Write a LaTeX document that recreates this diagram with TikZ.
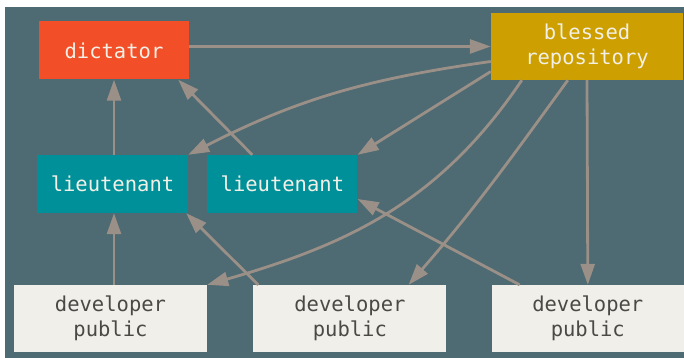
\documentclass[tikz,border=0pt]{standalone}
\usepackage{fontspec}
\setmonofont{DejaVu Sans Mono}
\usepackage{tikz}
\usetikzlibrary{arrows.meta,positioning}
\definecolor{slate}{HTML}{4E6A72}
\definecolor{dictfill}{HTML}{F24E27}
\definecolor{blessfill}{HTML}{CD9F00}
\definecolor{ltfill}{HTML}{00909A}
\definecolor{devfill}{HTML}{F0EFE9}
\definecolor{devtext}{HTML}{4B4946}
\definecolor{lighttext}{HTML}{F2F0E6}
\definecolor{arrowc}{HTML}{9B9088}

\begin{document}
\begin{tikzpicture}[x=1pt,y=-1pt,
  box/.style={inner sep=0pt,minimum height=58pt,align=center,text=lighttext,
              font=\ttfamily\fontsize{20.5}{25}\selectfont},
  devbox/.style={box,fill=devfill,text=devtext,minimum width=193pt,minimum height=67pt},
  arr/.style={-{Triangle[length=21pt,width=14pt]},draw=arrowc,line width=2.8pt}
]
\useasboundingbox (0,0) rectangle (684,358);
\fill[slate] (5,7) rectangle (684,358);
\node[box,fill=dictfill,minimum width=150pt] (dict) at (114,50.5) {dictator};
\node[box,fill=blessfill,minimum width=192pt,minimum height=67pt] (bless) at (587,46.5) {blessed\\repository};
\node[box,fill=ltfill,minimum width=151pt] (lt1) at (112.5,184) {lieutenant};
\node[box,fill=ltfill,minimum width=150pt,right=19pt of lt1] (lt2) {lieutenant};
\node[devbox] (dev1) at (110.5,318.5) {developer\\public};
\node[devbox,right=46pt of dev1] (dev2) {developer\\public};
\node[devbox,right=45pt of dev2,minimum width=192pt] (dev3) {developer\\public};
% up to the dictator
\draw[arr] (dict.east |- bless.west) -- (bless.west);
\draw[arr] (dict.south |- lt1.north) -- (dict.south);
\draw[arr] ([xshift=45pt]lt2.north west) -- ([xshift=-11pt]dict.south east);
% down from the blessed repository
\draw[arr] ([yshift=-15pt]bless.west) to[out=188,in=27] (lt1.north east);
\draw[arr] ([yshift=-25pt]bless.west) -- (lt2.north east);
\draw[arr] ([xshift=31pt]bless.south west) to[out=236,in=16] (dev1.north east);
\draw[arr] ([xshift=77pt]bless.south west) to[out=234,in=49] ([xshift=-38pt]dev2.north east);
\draw[arr] (bless.south) -- (dev3.north);
% developers to lieutenants
\draw[arr] (dict.south |- dev1.north) -- (dict.south |- lt1.south);
\draw[arr] ([xshift=5pt]dev2.north west) -- ([xshift=-2pt]lt1.south east);
\draw[arr] ([xshift=28pt]dev3.north west) -- ([yshift=-15pt]lt2.east);
\end{tikzpicture}
\end{document}
